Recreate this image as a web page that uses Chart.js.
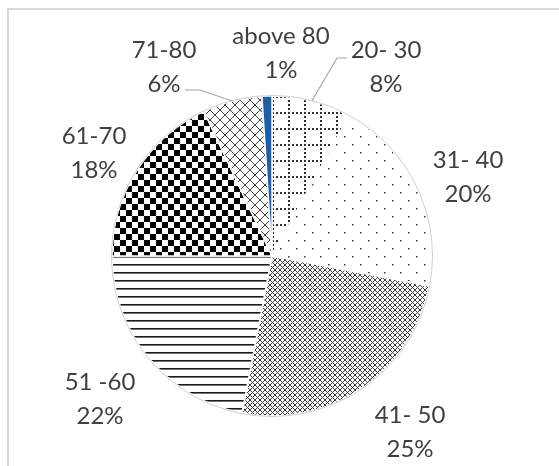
<!DOCTYPE html>
<html>
<head>
<meta charset="utf-8">
<script src="https://cdn.jsdelivr.net/npm/chart.js@4.4.1/dist/chart.umd.min.js"></script>
<style>
  html, body { margin: 0; padding: 0; background: #ffffff; }
  #wrap { position: relative; width: 559px; height: 466px; }
  canvas { display: block; }
</style>
</head>
<body>
<div id="wrap"><canvas id="c" width="559" height="466"></canvas></div>
<script>
// ---- data ----
const categories = ['20- 30', '31- 40', '41- 50', '51 -60', '61-70', '71-80', 'above 80'];
const percentages = [8, 20, 25, 22, 18, 6, 1];
const percentLabels = ['8%', '20%', '25%', '22%', '18%', '6%', '1%'];

// ---- layout (label anchors relative to pie centre: x centre, first baseline) ----
const labelOffsets = [[114, -198], [196, -88], [138, 167], [-172, 134], [-178, -112], [-108, -198], [9, -212]];
// leader lines: label-side points relative to pie centre (end goes to slice edge)
const leaderPoints = { 0: [[75, -198], [65, -198]], 5: [[-87, -166], [-72, -166]] };

// ---- patterns ----
function makePattern(w, h, draw) {
  const c = document.createElement('canvas');
  c.width = w; c.height = h;
  const x = c.getContext('2d');
  x.fillStyle = '#ffffff';
  x.fillRect(0, 0, w, h);
  draw(x);
  return x.createPattern(c, 'repeat');
}
const ctx = document.getElementById('c').getContext('2d');
const patGrid = makePattern(16, 16, x => {
  x.fillStyle = '#2e2e2e';
  for (let k = 0; k < 16; k += 4) { x.fillRect(k, 0, 2, 2); x.fillRect(0, k, 2, 2); }
});
const patDots = makePattern(16, 16, x => {
  x.fillStyle = '#3a3a3a';
  x.fillRect(0, 0, 1.5, 1.5); x.fillRect(8, 8, 1.5, 1.5);
});
const patMesh = makePattern(5, 5, x => {
  x.fillStyle = '#3c3c3c';
  for (let i = 0; i < 5; i++) { x.fillRect(i, i, 1, 1); x.fillRect(4 - i, i, 1, 1); }
});
const patLines = makePattern(8, 8, x => {
  x.fillStyle = '#1a1a1a';
  x.fillRect(0, 0, 8, 1.6);
});
const patChecker = makePattern(12, 12, x => {
  x.fillStyle = '#000000';
  x.fillRect(0, 0, 6, 6); x.fillRect(6, 6, 6, 6);
});
const patCross = makePattern(10, 10, x => {
  x.fillStyle = '#444444';
  for (let i = 0; i < 10; i++) { x.fillRect(i, i, 1, 1); x.fillRect(9 - i, i, 1, 1); }
});
const fills = [patGrid, patDots, patMesh, patLines, patChecker, patCross, '#1f5fa6'];

// ---- plugins ----
const framePlugin = {
  id: 'frame',
  beforeDraw(chart) {
    const c = chart.ctx;
    c.save();
    c.strokeStyle = '#d9d9d9';
    c.lineWidth = 2;
    c.beginPath();
    c.moveTo(8, 470); c.lineTo(8, 9); c.lineTo(570, 9);
    c.stroke();
    c.restore();
  }
};

const labelPlugin = {
  id: 'sliceLabels',
  afterDatasetsDraw(chart) {
    const meta = chart.getDatasetMeta(0);
    const c = chart.ctx;
    c.save();
    // faint outer rim
    const a0 = meta.data[0];
    c.strokeStyle = '#d0d0d0';
    c.lineWidth = 1;
    c.beginPath();
    c.arc(a0.x, a0.y, a0.outerRadius + 0.5, 0, Math.PI * 2);
    c.stroke();
    // leader lines
    c.strokeStyle = '#a6a6a6';
    c.lineWidth = 1.2;
    Object.keys(leaderPoints).forEach(k => {
      const arc = meta.data[k];
      const mid = (arc.startAngle + arc.endAngle) / 2;
      const ex = arc.x + Math.cos(mid) * arc.outerRadius;
      const ey = arc.y + Math.sin(mid) * arc.outerRadius;
      c.beginPath();
      leaderPoints[k].forEach((p, i) => {
        if (i === 0) c.moveTo(arc.x + p[0], arc.y + p[1]); else c.lineTo(arc.x + p[0], arc.y + p[1]);
      });
      c.lineTo(ex, ey);
      c.stroke();
    });
    // text
    c.fillStyle = '#404040';
    c.font = '24px Lato, "Open Sans", sans-serif';
    c.textAlign = 'center';
    c.textBaseline = 'alphabetic';
    meta.data.forEach((arc, i) => {
      const lx = arc.x + labelOffsets[i][0];
      const ly = arc.y + labelOffsets[i][1];
      c.fillText(categories[i], lx, ly);
      c.fillText(percentLabels[i], lx, ly + 34);
    });
    c.restore();
  }
};

new Chart(ctx, {
  type: 'pie',
  data: {
    labels: categories,
    datasets: [{
      data: percentages,
      backgroundColor: fills,
      borderColor: '#ffffff',
      borderWidth: 1.5
    }]
  },
  options: {
    responsive: false,
    animation: false,
    radius: 160,
    layout: { padding: { left: 112, right: 127, top: 96, bottom: 50 } },
    plugins: {
      legend: { display: false },
      tooltip: { enabled: false }
    }
  },
  plugins: [framePlugin, labelPlugin]
});
</script>
</body>
</html>
